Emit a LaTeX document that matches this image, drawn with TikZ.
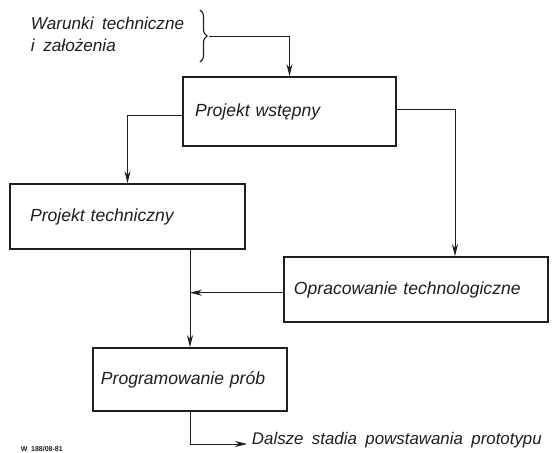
\documentclass[tikz,border=0pt]{standalone}
\usepackage{fontspec}
\setmainfont[WordSpace=1.8]{Liberation Sans}
\usetikzlibrary{arrows.meta,positioning,calc,decorations.pathreplacing}
\definecolor{ink}{HTML}{1E1E1E}
\definecolor{paper}{HTML}{FFFFFF}

\begin{document}
\begin{tikzpicture}[x=0.025cm,y=-0.025cm,>={Stealth[length=3mm,width=1.5mm]},every node/.style={font=\itshape\fontsize{12.5}{15}\selectfont,text=ink},box/.style={draw=ink,line width=1.4pt,align=left,inner sep=0pt,minimum height=#1},flow/.style={->,ink,line width=.6pt}]
\path[use as bounding box,fill=paper] (0,0) rectangle (555,453);

\node[anchor=west,align=left,font=\itshape\fontsize{12.2}{15.5}\selectfont] (war) at (26,34) {Warunki techniczne\\i założenia};
\draw[ink,line width=.8pt,decorate,decoration={brace,amplitude=5pt}] (200,10) -- (200,62);
\coordinate (br) at (209,36);

\node[box=1.72cm,text width=5.32cm] (wst) at (289.5,111.5) {\hspace*{.3cm}Projekt wstępny};
\node[box=1.62cm,text width=5.87cm] (tech) at (127.5,216.5) {\hspace*{.5cm}Projekt techniczny};
\node[box=1.62cm,text width=6.6cm] (opr) at (416,289.5) {\hspace*{.25cm}Opracowanie technologiczne};
\node[box=1.57cm,text width=4.85cm] (prog) at (190,379.5) {\hspace*{.2cm}Programowanie prób};
\node[anchor=base west,font=\itshape\fontsize{12}{15}\selectfont] (out) at (247,444) {Dalsze stadia powstawania prototypu};
\node[anchor=west,font=\bfseries\fontsize{5}{6}\selectfont] (nr) at (16,449) {W 188/08-81};

\draw[flow] (br) -| (wst.north);
\draw[flow] ([yshift=-.1cm]wst.west) -| (tech.north);
\draw[flow] ([yshift=.05cm]wst.east) -| ([xshift=.975cm]opr.north);
\draw[flow] (tech.south -| prog.north) -- (prog.north);
\draw[flow] ([yshift=-.08cm]opr.west) -- ([yshift=-.08cm]opr.west -| prog.north);
\draw[flow] (prog.south) |- (out.base west);

\end{tikzpicture}
\end{document}
